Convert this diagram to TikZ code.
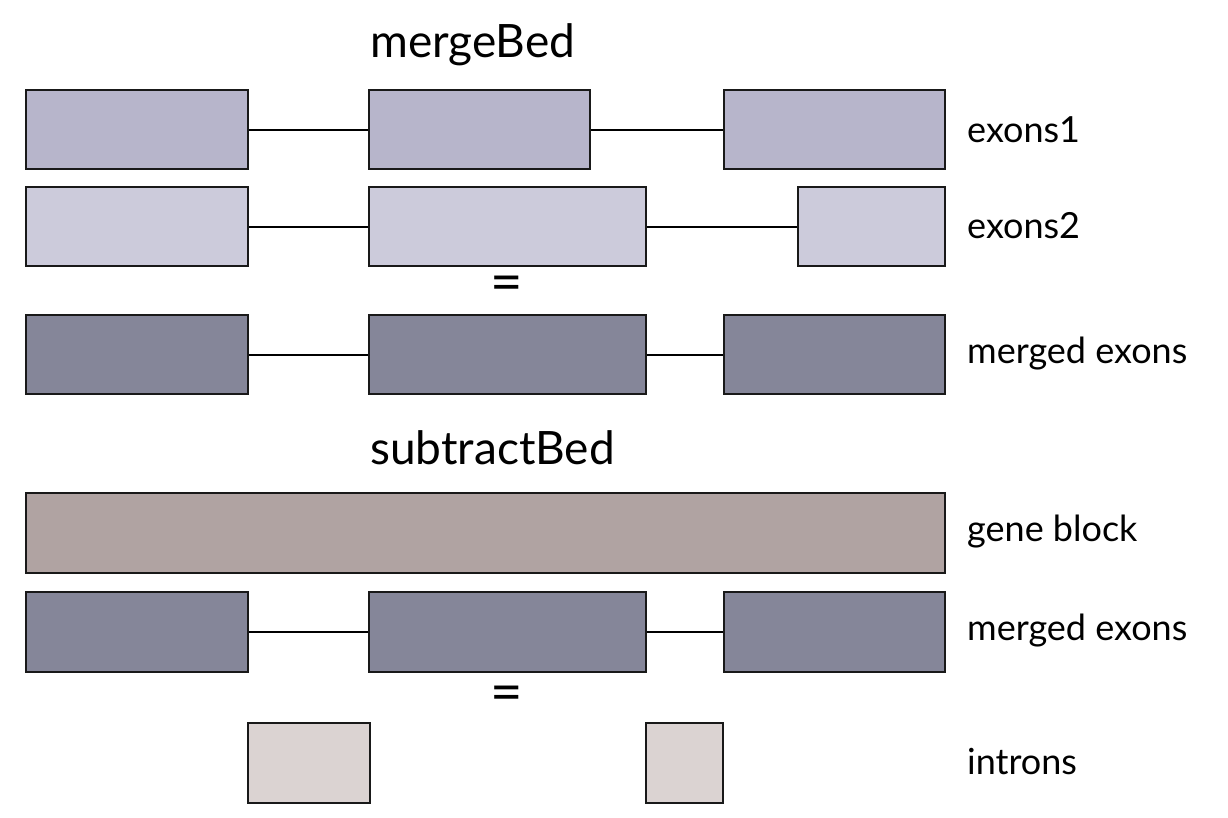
\documentclass[tikz,border=0pt]{standalone}
\usepackage{fontspec}
\setmainfont{Lato}
\usetikzlibrary{positioning}
\definecolor{exonsA}{HTML}{B7B5CB}
\definecolor{exonsB}{HTML}{CCCBDB}
\definecolor{merged}{HTML}{858699}
\definecolor{geneblk}{HTML}{B0A3A2}
\definecolor{intron}{HTML}{DBD3D2}

\begin{document}
\begin{tikzpicture}[x=1pt, y=-1pt,
    exonbox/.style={draw=black!90, line width=2.4pt, inner sep=0pt, anchor=north west},
    link/.style={draw=black, line width=2pt},
    rowlabel/.style={anchor=west, inner sep=0pt, font=\fontsize{36}{42}\selectfont},
    title/.style={anchor=west, inner sep=0pt, font=\fontsize{46}{54}\selectfont},
    eqsign/.style={inner sep=0pt, font=\fontsize{56}{60}\selectfont}]
    \useasboundingbox (0,0) rectangle (1228,818);
    % mergeBed
    \node[title] (mtitle) at (370,45) {mergeBed};
    \node[exonbox, fill=exonsA, minimum width=222pt, minimum height=79pt] (a1) at (25,89) {};
    \node[exonbox, fill=exonsA, minimum width=221pt, minimum height=79pt] (a2) at (368,89) {};
    \node[exonbox, fill=exonsA, minimum width=221pt, minimum height=79pt] (a3) at (723,89) {};
    \draw[link] (a1.east) -- (a2.west);
    \draw[link] (a2.east) -- (a3.west);
    \node[rowlabel] (la) at (967,130) {exons1};
    \node[exonbox, fill=exonsB, minimum width=222pt, minimum height=79pt] (b1) at (25,186) {};
    \node[exonbox, fill=exonsB, minimum width=277pt, minimum height=79pt] (b2) at (368,186) {};
    \node[exonbox, fill=exonsB, minimum width=147pt, minimum height=79pt] (b3) at (797,186) {};
    \draw[link] (b1.east) -- (b2.west);
    \draw[link] (b2.east) -- (b3.west);
    \node[rowlabel] (lb) at (967,226) {exons2};
    \node[eqsign] (eq1) at (507,289) {=};
    \node[exonbox, fill=merged, minimum width=222pt, minimum height=79pt] (c1) at (25,314) {};
    \node[exonbox, fill=merged, minimum width=277pt, minimum height=79pt] (c2) at (368,314) {};
    \node[exonbox, fill=merged, minimum width=221pt, minimum height=79pt] (c3) at (723,314) {};
    \draw[link] (c1.east) -- (c2.west);
    \draw[link] (c2.east) -- (c3.west);
    \node[rowlabel] (lc) at (967,354) {merged exons};
    % subtractBed
    \node[title] (stitle) at (370,448) {subtractBed};
    \node[exonbox, fill=geneblk, minimum width=919pt, minimum height=80pt] (g) at (25,492) {};
    \node[rowlabel] (lg) at (967,532) {gene block};
    \node[exonbox, fill=merged, minimum width=222pt, minimum height=80pt] (d1) at (25,591) {};
    \node[exonbox, fill=merged, minimum width=277pt, minimum height=80pt] (d2) at (368,591) {};
    \node[exonbox, fill=merged, minimum width=221pt, minimum height=80pt] (d3) at (723,591) {};
    \draw[link] (d1.east) -- (d2.west);
    \draw[link] (d2.east) -- (d3.west);
    \node[rowlabel] (ld) at (967,631) {merged exons};
    \node[eqsign] (eq2) at (507,699) {=};
    \node[exonbox, fill=intron, minimum width=122pt, minimum height=80pt] (i1) at (247,722) {};
    \node[exonbox, fill=intron, minimum width=77pt, minimum height=80pt] (i2) at (645,722) {};
    \node[rowlabel] (li) at (967,762) {introns};
\end{tikzpicture}
\end{document}
